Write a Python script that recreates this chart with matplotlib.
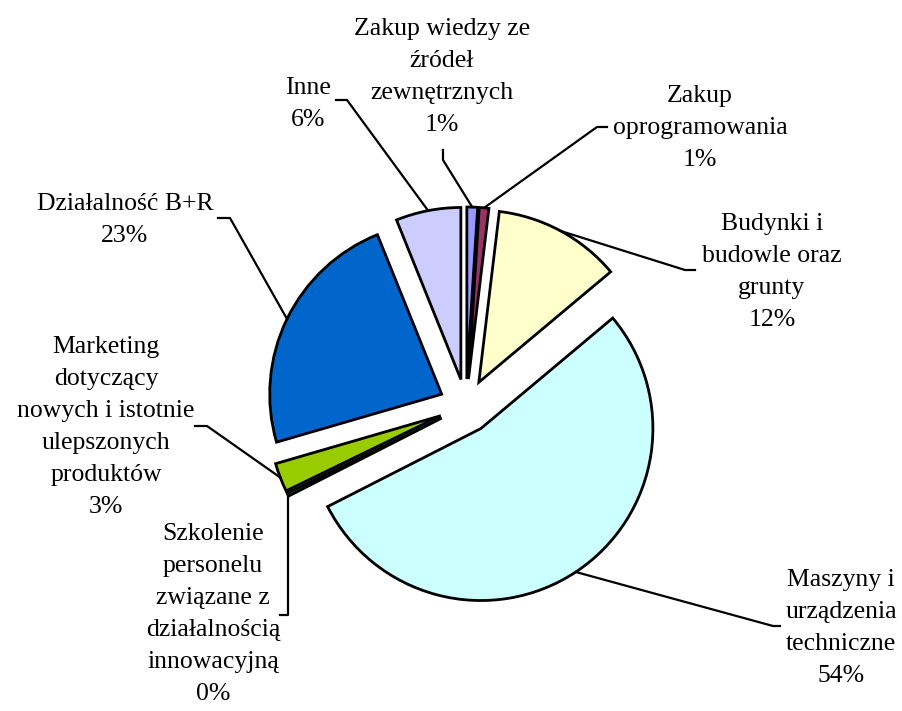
import matplotlib.pyplot as plt
from matplotlib.lines import Line2D
import numpy as np

plt.rcParams['font.family'] = ['Liberation Serif', 'DejaVu Serif']

# Data (shares of innovation spending, %)
labels = [
    "Zakup wiedzy ze\nźródeł\nzewnętrznych",
    "Zakup\noprogramowania",
    "Budynki i\nbudowle oraz\ngrunty",
    "Maszyny i\nurządzenia\ntechniczne",
    "Szkolenie\npersonelu\nzwiązane z\ndziałalnością\ninnowacyjną",
    "Marketing\ndotyczący\nnowych i istotnie\nulepszonych\nproduktów",
    "Działalność B+R",
    "Inne",
]
values = [1.0, 0.9, 12.0, 53.6, 0.3, 2.7, 23.4, 6.1]
colors = ["#9999FF", "#993366", "#FFFFCC", "#CCFFFF", "#339933", "#99CC00", "#0066CC", "#CCCCFF"]

# layout (pixels of the 903x711 image)
W, H = 903, 711
CX, CY = 466, 406     # pie centre
R = 172               # radius
EXPLODE = 27 / R

# label centres and leader elbows in pixels
label_pos = [(442, 77), (700, 128), (772, 272), (841, 628),
             (213, 614), (106, 427), (125, 220), (308, 104)]
elbows = [[(443, 150), (443, 160)],
          [(607, 127), (597, 127)],
          [(695, 270), (685, 270)],
          [(780, 626), (773, 626)],
          [(280, 615), None],
          [(195, 426), (207, 426)],
          [(218, 218), (230, 218)],
          [(336, 100), (347, 100)]]


def to_data(p):
    return ((p[0] - CX) / R, (CY - p[1]) / R)


fig = plt.figure(figsize=(W / 100, H / 100), dpi=100)
ax = fig.add_axes([0, 0, 1, 1])

wedges, _ = ax.pie(values, colors=colors, startangle=90, counterclock=False,
                   explode=[EXPLODE] * len(values), radius=1,
                   wedgeprops=dict(edgecolor="black", linewidth=2.0))

ax.set_xlim(-CX / R, (W - CX) / R)
ax.set_ylim(-(H - CY) / R, CY / R)
ax.set_aspect("equal")
ax.axis("off")

total = sum(values)
for i, (w, lab) in enumerate(zip(wedges, labels)):
    pct = round(values[i] / total * 100)
    x, y = to_data(label_pos[i])
    ax.text(x, y, f"{lab}\n{pct}%", ha="center", va="center", fontsize=18.5,
            linespacing=1.58)

    # leader line from label to wedge outer edge at mid-angle
    mid = np.deg2rad((w.theta1 + w.theta2) / 2)
    cx, cy = w.center
    ex, ey = cx + w.r * np.cos(mid), cy + w.r * np.sin(mid)
    pts = []
    e0, e1 = elbows[i]
    pts.append(to_data(e0))
    if e1 is None:
        pts.append((ex, to_data(e0)[1]))
    else:
        pts.append(to_data(e1))
    pts.append((ex, ey))
    xs, ys = zip(*pts)
    ax.add_line(Line2D(xs, ys, color="black", linewidth=1.6))

plt.savefig("out.png", dpi=100)
